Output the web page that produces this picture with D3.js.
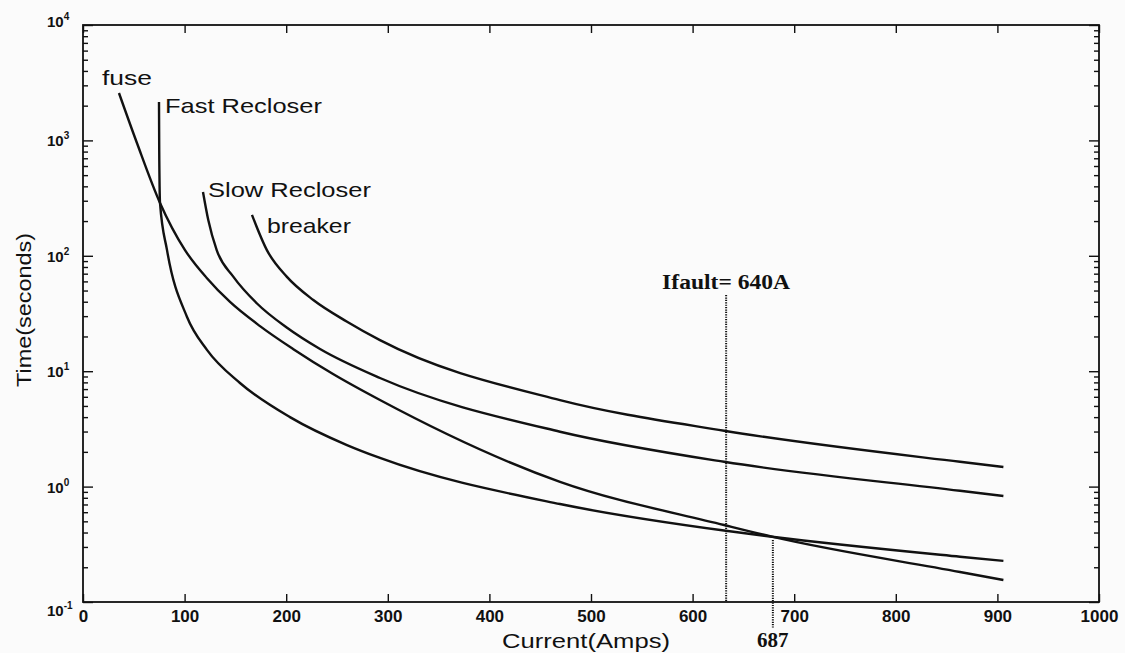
<!DOCTYPE html>
<html>
<head>
<meta charset="utf-8">
<script src="https://cdn.jsdelivr.net/npm/d3@7"></script>
<style>
  body { margin: 0; background: #fbfbfb; }
  svg { display: block; }
  .tick line { stroke: #111; stroke-width: 1.4; }
</style>
</head>
<body>
<svg id="chart"></svg>
<script>
// values: current (A) vs operating time (s)
const seriesNames = ['fuse', 'Fast Recloser', 'Slow Recloser', 'breaker'];

const fuseCurrent = [35.4, 53.1, 75.8, 100.4, 121.8, 144.7, 174.2, 206.7, 246.1, 292.3, 469.5, 631, 678.1, 863.2, 905.9];
const fuseTime    = [2575, 949, 287, 112, 64.2, 39.8, 24.6, 15.6, 9.46, 5.63, 1.10, 0.465, 0.368, 0.182, 0.155];

const fastCurrent = [74.8, 75.0, 75.8, 82.7, 102.4, 122, 154.5, 203.7, 259.8, 292.3, 469.5, 630.9, 678.1, 863.2, 905.9];
const fastTime    = [2152, 877, 287, 112, 29.5, 15.3, 7.9, 4.0, 2.29, 1.77, 0.706, 0.416, 0.368, 0.247, 0.227];

const slowCurrent = [118.1, 123.3, 131.6, 147.9, 171, 200.5, 233.3, 292.3, 469.5, 631, 863.2, 905.9];
const slowTime    = [357, 204, 112, 66, 38.8, 23.9, 15.57, 8.73, 2.99, 1.64, 0.92, 0.829];

const breakerCurrent = [166.3, 181, 200.5, 226.7, 259.5, 292.3, 469.5, 631, 863.2, 905.9];
const breakerTime    = [226, 112, 66, 41.4, 26.97, 18.6, 5.62, 3.05, 1.64, 1.48];

// where each curve name sits (current, time)
const labelCurrent = [18.7, 80.7, 123, 181];
const labelTime = [3020, 1726, 324, 158];

// dotted markers
const markerCurrent = [633, 679];
const markerTop = [45.7, 0.344];
const markerBottom = [0.1, 0.06];
const markerText = ['Ifault= 640A', '687'];

const xTickValues = [0, 100, 200, 300, 400, 500, 600, 700, 800, 900, 1000];
const yTickValues = [0.1, 1, 10, 100, 1000, 10000];
const yTickExp = ['-1', '0', '1', '2', '3', '4'];

const svgWidth = 1125;
const svgHeight = 653;
const plotL = 83, plotT = 25, plotR = 1099, plotB = 602;

const svg = d3.select('#chart')
    .attr('width', svgWidth)
    .attr('height', svgHeight);

const x = d3.scaleLinear().domain([0, 1000]).range([plotL, plotR]);
const y = d3.scaleLog().domain([0.1, 10000]).range([plotB, plotT]);

const ink = '#111';
const sans = 'Arial, "Liberation Sans", sans-serif';
const serif = '"Times New Roman", "Liberation Serif", serif';

// minor log ticks come from the scale itself
const allY = y.ticks();
const minorY = allY.filter(v => !yTickValues.some(p => Math.abs(p - v) < 1e-9));

// bottom axis with labels
let gx = svg.append('g')
    .attr('transform', `translate(0,${plotB})`)
    .call(d3.axisBottom(x).tickValues(xTickValues).tickSize(-8).tickPadding(8).tickFormat(d3.format('d')));
gx.select('.domain').remove();
gx.selectAll('text')
    .attr('fill', ink)
    .style('font-family', sans)
    .style('font-size', '17px')
    .style('font-weight', 'bold');

// top axis, ticks only
let gxt = svg.append('g')
    .attr('transform', `translate(0,${plotT})`)
    .call(d3.axisTop(x).tickValues(xTickValues).tickSize(-8).tickFormat(''));
gxt.select('.domain').remove();

// left + right axes: majors and minors
let addY = (axisFn, xpos, values, size) => {
    let g = svg.append('g')
        .attr('transform', `translate(${xpos},0)`)
        .call(axisFn(y).tickValues(values).tickSize(size).tickFormat(''));
    g.select('.domain').remove();
};
addY(d3.axisLeft, plotL, yTickValues, -10);
addY(d3.axisLeft, plotL, minorY, -5);
addY(d3.axisRight, plotR, yTickValues, -10);
addY(d3.axisRight, plotR, minorY, -5);

// frame
svg.append('rect')
    .attr('x', plotL).attr('y', plotT)
    .attr('width', plotR - plotL).attr('height', plotB - plotT)
    .attr('fill', 'none')
    .attr('stroke', ink)
    .attr('stroke-width', 1.8);

// y tick labels 10^n
let yLab = svg.append('g').selectAll('text')
    .data(yTickValues)
    .join('text')
    .attr('x', 47)
    .attr('y', (d, i) => y(d) + (i === 0 ? 14 : (i === yTickValues.length - 1 ? 2 : 6)))
    .attr('fill', ink)
    .style('font-family', sans)
    .style('font-weight', 'bold')
    .style('font-size', '15px');
yLab.append('tspan').text('10');
yLab.append('tspan')
    .attr('dy', -7)
    .style('font-size', '10px')
    .text((d, i) => yTickExp[i]);

// axis titles
svg.append('text')
    .attr('x', (plotL + plotR) / 2 - 5)
    .attr('y', 648)
    .attr('text-anchor', 'middle')
    .attr('textLength', 168)
    .attr('lengthAdjust', 'spacingAndGlyphs')
    .attr('fill', ink)
    .style('font-family', sans)
    .style('font-size', '21px')
    .text('Current(Amps)');

svg.append('text')
    .attr('transform', `translate(31,310) rotate(-90)`)
    .attr('text-anchor', 'middle')
    .attr('textLength', 154)
    .attr('lengthAdjust', 'spacingAndGlyphs')
    .attr('fill', ink)
    .style('font-family', sans)
    .style('font-size', '21px')
    .text('Time(seconds)');

// curves
const curves = [
    d3.zip(fuseCurrent, fuseTime),
    d3.zip(fastCurrent, fastTime),
    d3.zip(slowCurrent, slowTime),
    d3.zip(breakerCurrent, breakerTime)
];
const line = d3.line()
    .x(d => x(d[0]))
    .y(d => y(d[1]))
    .curve(d3.curveMonotoneX);

svg.append('g').selectAll('path')
    .data(curves)
    .join('path')
    .attr('d', line)
    .attr('fill', 'none')
    .attr('stroke', ink)
    .attr('stroke-width', 2.4)
    .attr('stroke-linejoin', 'round');

// curve names
const labelLengths = [50, 157, 163, 84];
svg.append('g').selectAll('text')
    .data(seriesNames)
    .join('text')
    .attr('x', (d, i) => x(labelCurrent[i]))
    .attr('y', (d, i) => y(labelTime[i]))
    .attr('textLength', (d, i) => labelLengths[i])
    .attr('lengthAdjust', 'spacingAndGlyphs')
    .attr('fill', ink)
    .style('font-family', sans)
    .style('font-size', '21px')
    .text(d => d);

// dotted fault markers
svg.append('g').selectAll('line')
    .data(markerCurrent)
    .join('line')
    .attr('x1', d => x(d)).attr('x2', d => x(d))
    .attr('y1', (d, i) => y(markerTop[i]))
    .attr('y2', (d, i) => y(markerBottom[i]))
    .attr('stroke', ink)
    .attr('stroke-width', 2)
    .attr('stroke-dasharray', '1.2,1.2');

svg.append('text')
    .attr('x', x(markerCurrent[0]))
    .attr('y', y(markerTop[0]) - 6)
    .attr('text-anchor', 'middle')
    .attr('textLength', 128)
    .attr('lengthAdjust', 'spacingAndGlyphs')
    .attr('fill', ink)
    .style('font-family', serif)
    .style('font-weight', 'bold')
    .style('font-size', '20px')
    .text(markerText[0]);

svg.append('text')
    .attr('x', x(markerCurrent[1]))
    .attr('y', 647)
    .attr('text-anchor', 'middle')
    .attr('fill', ink)
    .style('font-family', serif)
    .style('font-weight', 'bold')
    .style('font-size', '21px')
    .text(markerText[1]);
</script>
</body>
</html>
